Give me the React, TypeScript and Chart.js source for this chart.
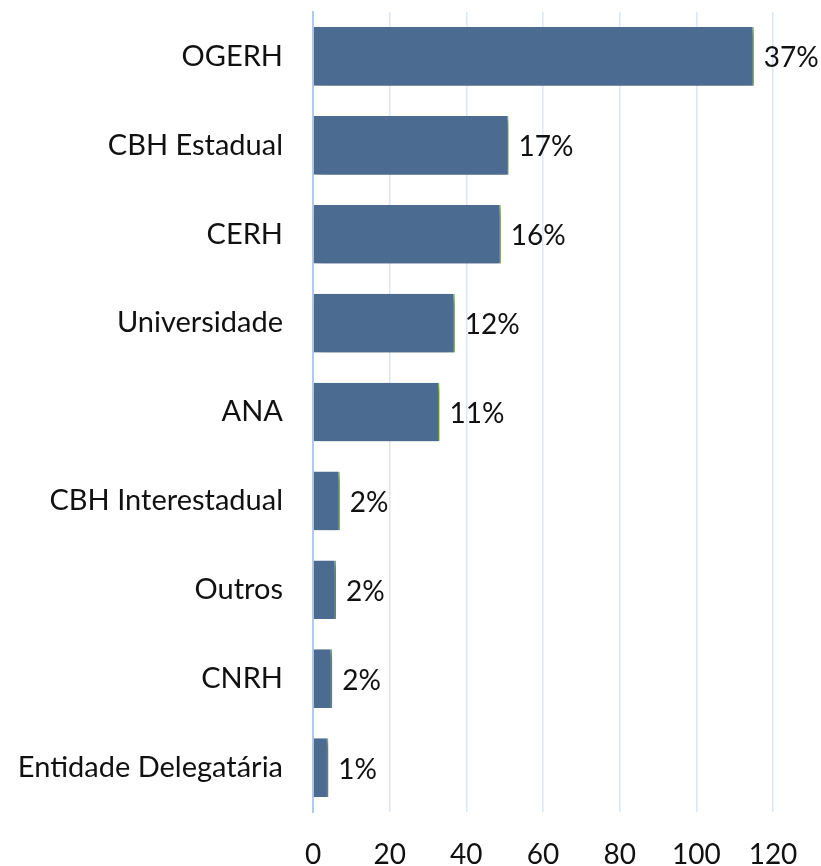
import React, { useEffect, useRef } from "react";
import { Chart, registerables } from "chart.js";

Chart.register(...registerables);

const categories = [
  "OGERH",
  "CBH Estadual",
  "CERH",
  "Universidade",
  "ANA",
  "CBH Interestadual",
  "Outros",
  "CNRH",
  "Entidade Delegatária",
];
const values = [115, 51, 49, 37, 33, 7, 6, 5, 4];
const percentLabels = ["37%", "17%", "16%", "12%", "11%", "2%", "2%", "2%", "1%"];
const xTicks = [0, 20, 40, 60, 80, 100, 120];

const FONT = "Lato, 'Open Sans', sans-serif";

const shadowPlugin = {
  id: "barShadow",
  beforeDatasetsDraw(chart: any) {
    const ctx = chart.ctx;
    ctx.save();
    ctx.shadowColor = "rgba(0,0,0,0.4)";
    ctx.shadowBlur = 7;
    ctx.shadowOffsetX = 3;
    ctx.shadowOffsetY = 4;
  },
  afterDatasetsDraw(chart: any) {
    chart.ctx.restore();
  },
};

const labelPlugin = {
  id: "pctLabels",
  afterDatasetsDraw(chart: any) {
    const ctx = chart.ctx;
    const meta = chart.getDatasetMeta(0);
    ctx.save();
    ctx.fillStyle = "#111";
    ctx.font = `28px ${FONT}`;
    ctx.textAlign = "left";
    ctx.textBaseline = "middle";
    meta.data.forEach((bar: any, i: number) => {
      ctx.fillText(percentLabels[i], bar.x + 10, bar.y + 2);
    });
    ctx.restore();
  },
};

export default function App() {
  const ref = useRef<HTMLCanvasElement>(null);
  useEffect(() => {
    document.body.style.margin = "0";
    const chart = new Chart(ref.current!, {
      type: "bar",
      data: {
        labels: categories,
        datasets: [
          {
            data: values,
            backgroundColor: "#4B6B90",
            borderColor: "#8CC152",
            borderWidth: { left: 0, top: 0, bottom: 0, right: 1.5 },
            borderSkipped: false,
            categoryPercentage: 1,
            barPercentage: 0.66,
          },
        ],
      },
      options: {
        indexAxis: "y",
        animation: false,
        responsive: false,
        maintainAspectRatio: false,
        layout: { padding: { top: 12, right: 48, left: 0, bottom: 0 } },
        plugins: {
          legend: { display: false },
          tooltip: { enabled: false },
        },
        scales: {
          x: {
            min: 0,
            max: 120,
            afterBuildTicks: (scale: any) => {
              scale.ticks = xTicks.map((v) => ({ value: v }));
            },
            afterFit: (scale: any) => {
              scale.height = 54;
              scale.paddingLeft = 0;
              scale.paddingRight = 0;
            },
            grid: { color: "#DCE6F4", lineWidth: 1.5, drawTicks: false },
            border: { display: false },
            ticks: {
              padding: 26,
              color: "#111",
              font: { family: FONT, size: 28 },
            },
          },
          y: {
            afterFit: (scale: any) => {
              scale.width = 313;
              scale.paddingTop = 0;
              scale.paddingBottom = 0;
            },
            grid: { display: false, drawTicks: false },
            border: { display: true, color: "#B4C9EA", width: 2 },
            ticks: {
              padding: 30,
              color: "#111",
              font: { family: FONT, size: 29 },
            },
          },
        },
      },
      plugins: [shadowPlugin, labelPlugin],
    } as any);
    return () => chart.destroy();
  }, []);
  return (
    <div style={{ width: 821, height: 866 }}>
      <canvas ref={ref} width={821} height={866} />
    </div>
  );
}
